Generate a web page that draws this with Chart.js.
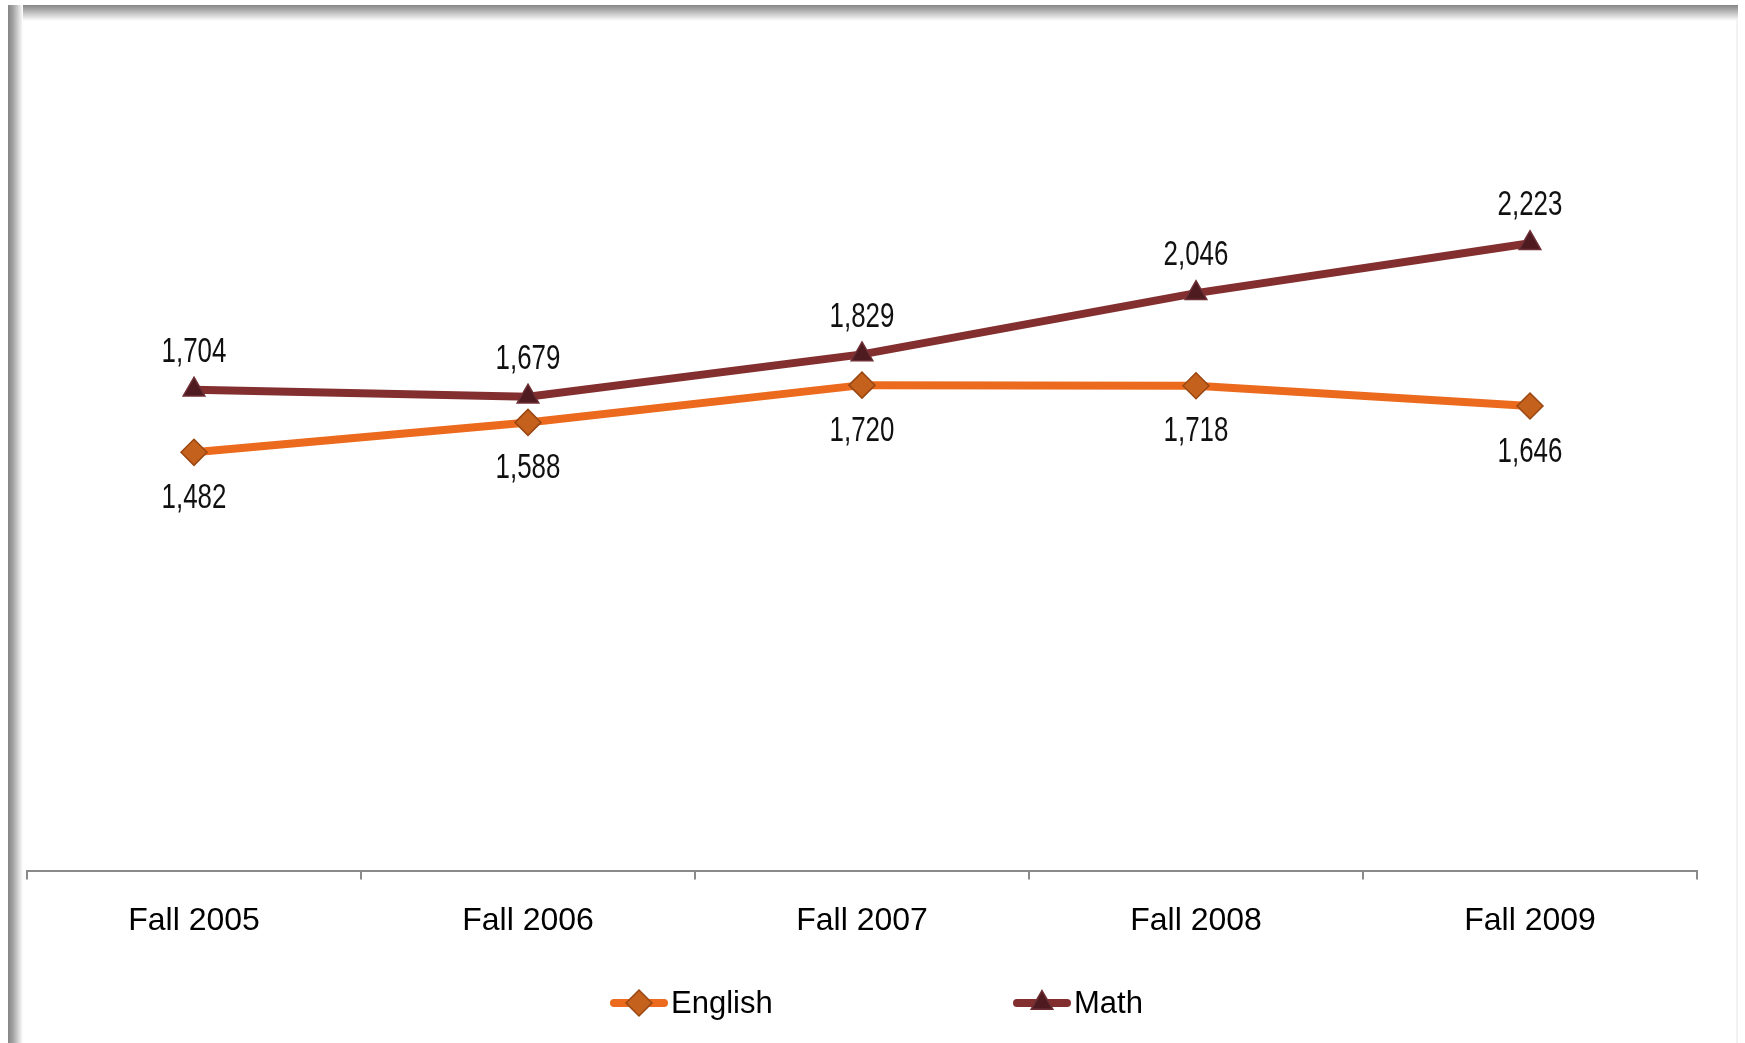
<!DOCTYPE html>
<html lang="en">
<head>
<meta charset="UTF-8">
<title>English and Math</title>
<script src="https://cdn.jsdelivr.net/npm/chart.js"></script>
<style>
    html, body { margin: 0; padding: 0; background: #fff; overflow: hidden; }
    .wrap { position: relative; width: 1745px; height: 1043px; }
    .frame-top { position: absolute; left: 8px; top: 5px; width: 1730px; height: 16px; background: linear-gradient(to bottom, #858585, #b0b0b0 35%, #fff); }
    .frame-left { position: absolute; left: 8px; top: 5px; width: 15px; height: 1038px; background: linear-gradient(to right, #858585, #a5a5a5 35%, #fff); }
    .frame-right { position: absolute; left: 1736px; top: 20px; width: 2px; height: 1023px; background: #f3f3f3; }
    #chart { position: absolute; left: 0; top: 0; }
</style>
</head>
<body>
<div class="wrap">
    <div class="frame-top"></div>
    <div class="frame-left"></div>
    <div class="frame-right"></div>
    <canvas id="chart" width="1745" height="1043"></canvas>
</div>

<script>
    // data
    const terms = ['Fall 2005', 'Fall 2006', 'Fall 2007', 'Fall 2008', 'Fall 2009'];
    const english = [1482, 1588, 1720, 1718, 1646];
    const math = [1704, 1679, 1829, 2046, 2223];

    // data labels: English below the point, Math above
    const labelOffsets = [46, -37.5];

    const valueLabels = {
        id: 'valueLabels',
        afterDatasetsDraw(chart) {
            const ctx = chart.ctx;
            const squeeze = 0.74; // narrow look of the original label font
            ctx.save();
            ctx.font = '35px "Liberation Sans", Arial, sans-serif';
            ctx.fillStyle = '#111';
            ctx.textAlign = 'center';
            ctx.textBaseline = 'middle';
            chart.data.datasets.forEach((ds, i) => {
                const meta = chart.getDatasetMeta(i);
                meta.data.forEach((pt, j) => {
                    ctx.save();
                    ctx.translate(pt.x, pt.y + labelOffsets[i]);
                    ctx.scale(squeeze, 1);
                    ctx.fillText(ds.data[j].toLocaleString('en-US'), 0, 0);
                    ctx.restore();
                });
            });
            ctx.restore();
        }
    };

    // legend with line + marker, spaced like the original
    const lineLegend = {
        id: 'lineLegend',
        afterDraw(chart) {
            const ctx = chart.ctx;
            const y = 1003;
            const starts = [610, 1013];
            ctx.save();
            chart.data.datasets.forEach((ds, i) => {
                const x = starts[i];
                ctx.strokeStyle = ds.borderColor;
                ctx.lineWidth = 8;
                ctx.lineCap = 'round';
                ctx.beginPath();
                ctx.moveTo(x + 4, y);
                ctx.lineTo(x + 54, y);
                ctx.stroke();
                ctx.fillStyle = ds.pointBackgroundColor;
                ctx.strokeStyle = ds.pointBorderColor;
                ctx.lineWidth = ds.pointBorderWidth;
                Chart.helpers.drawPoint(ctx, {
                    pointStyle: ds.pointStyle,
                    radius: ds.pointRadius,
                    rotation: 0,
                    borderWidth: ds.pointBorderWidth
                }, x + 29, y);
                ctx.fillStyle = '#000';
                ctx.font = '31px Arial, "Liberation Sans", sans-serif';
                ctx.textAlign = 'left';
                ctx.textBaseline = 'middle';
                ctx.fillText(ds.label, x + 61, y + 1);
            });
            ctx.restore();
        }
    };

    const chart = new Chart(document.getElementById('chart'), {
        type: 'line',
        data: {
            labels: terms,
            datasets: [
                {
                    label: 'English',
                    data: english,
                    borderColor: '#EB6A1D',
                    borderWidth: 8,
                    pointStyle: 'rectRot',
                    pointRadius: 13,
                    pointBackgroundColor: '#C3611D',
                    pointBorderColor: '#9A4712',
                    pointBorderWidth: 1.5,
                    tension: 0
                },
                {
                    label: 'Math',
                    data: math,
                    borderColor: '#832F30',
                    borderWidth: 8,
                    pointStyle: 'triangle',
                    pointRadius: 12.5,
                    pointBackgroundColor: '#4E1B20',
                    pointBorderColor: '#6E3036',
                    pointBorderWidth: 1.5,
                    tension: 0
                }
            ]
        },
        options: {
            responsive: false,
            animation: false,
            layout: { padding: { left: 27, right: 48, top: 165, bottom: 81 } },
            plugins: {
                legend: { display: false },
                tooltip: { enabled: false }
            },
            scales: {
                x: {
                    offset: true,
                    grid: { offset: true, drawOnChartArea: false, drawTicks: true, tickLength: 9, color: '#8a8a8a', lineWidth: 2 },
                    border: { display: true, color: '#8a8a8a', width: 2 },
                    ticks: { color: '#000', padding: 22, font: { family: 'Arial, "Liberation Sans", sans-serif', size: 32 } }
                },
                y: {
                    display: false,
                    min: 0,
                    max: 2500
                }
            }
        },
        plugins: [valueLabels, lineLegend]
    });
</script>
</body>
</html>
